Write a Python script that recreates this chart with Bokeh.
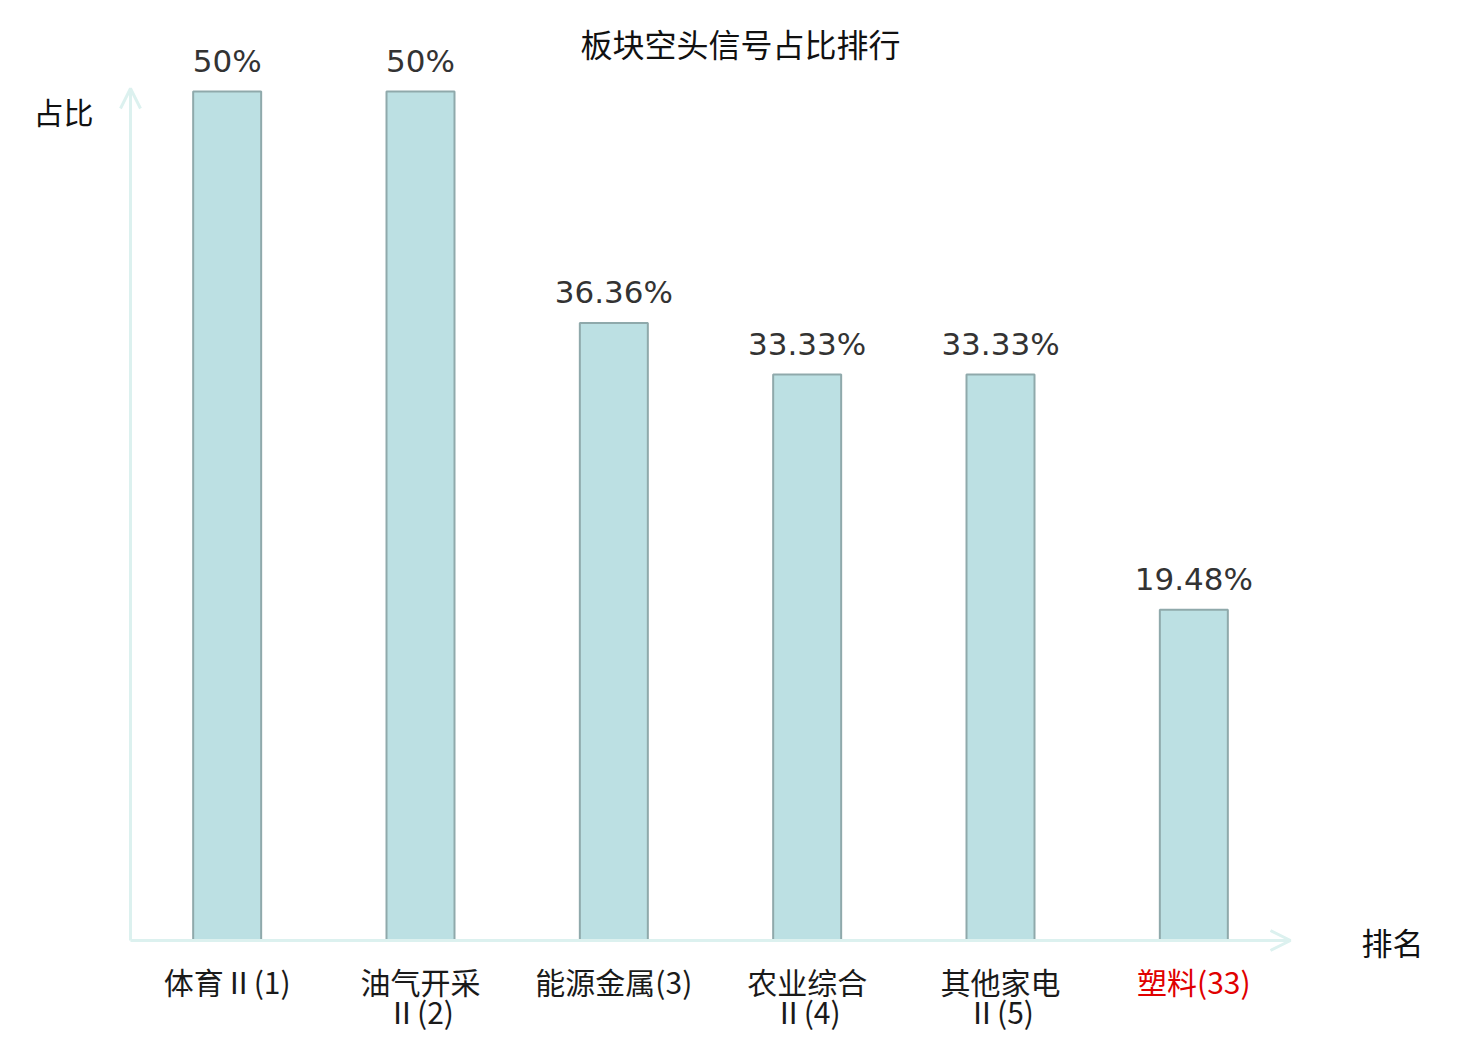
from bokeh.plotting import figure
from bokeh.models import ColumnDataSource, Arrow, OpenHead, Label, Range1d
from bokeh.core.properties import value
from bokeh.embed import file_html
from bokeh.resources import INLINE

title = "板块空头信号占比排行"
categories = ["体育Ⅱ(1)", "油气开采\nⅡ(2)", "能源金属(3)", "农业综合\nⅡ(4)", "其他家电\nⅡ(5)", "塑料(33)"]
values = [50, 50, 36.36, 33.33, 33.33, 19.48]
value_labels = ["50%", "50%", "36.36%", "33.33%", "33.33%", "19.48%"]
label_colors = ["#1a1a1a", "#1a1a1a", "#1a1a1a", "#1a1a1a", "#1a1a1a", "#e00000"]
y_name = "占比"
x_name = "排名"

W, H = 1464, 1032
px_x = 1160 / 6.0
px_y = 849 / 50.0
x0 = -130 / px_x
x1 = x0 + W / px_x
y1 = 940 / px_y
y0 = y1 - H / px_y

p = figure(width=W, height=H, output_backend="svg", toolbar_location=None,
           x_axis_location=None, y_axis_location=None,
           x_range=Range1d(x0, x1), y_range=Range1d(y0, y1),
           min_border=0, min_border_left=0, min_border_right=0,
           min_border_top=0, min_border_bottom=0)
p.outline_line_color = None
p.grid.visible = False
p.background_fill_color = "white"

xs = [i + 0.5 for i in range(len(categories))]
line1 = [c.split("\n")[0] for c in categories]
line2 = [c.split("\n")[1] if "\n" in c else "" for c in categories]
src = ColumnDataSource(dict(x=xs, top=values, lab=value_labels, l1=line1, l2=line2,
                            col=label_colors, zero=[0] * len(xs)))

axis_col = "#dcf1ef"
p.add_layout(Arrow(x_start=0, y_start=0, x_end=6.0, y_end=0, line_color=axis_col, line_width=3,
                   end=OpenHead(size=20, line_color=axis_col, line_width=3)))
p.add_layout(Arrow(x_start=0, y_start=0, x_end=0, y_end=(940 - 88) / px_y, line_color=axis_col, line_width=3,
                   end=OpenHead(size=20, line_color=axis_col, line_width=3)))

p.vbar(x="x", top="top", bottom=0, width=68 / px_x, source=src,
       fill_color="#bce0e3", line_color="#8fa9ab", line_width=2)

p.text(x="x", y="top", text="lab", source=src, text_align="center", text_baseline="middle",
       y_offset=-31, text_font=value("DejaVu Sans"), text_font_size="31px", text_color="#333333")

p.text(x="x", y="zero", text="l1", source=src, text_align="center", text_baseline="middle",
       y_offset=40, text_font=value("Noto Sans CJK SC"), text_font_size="30px", text_color="col")
p.text(x="x", y="zero", text="l2", source=src, text_align="center", text_baseline="middle",
       y_offset=70, text_font=value("Noto Sans CJK SC"), text_font_size="30px", text_color="col")

p.add_layout(Label(x=740, y=H - 42, x_units="screen", y_units="screen", text=title,
                   text_align="center", text_baseline="middle", text_font="Noto Sans CJK SC",
                   text_font_size="32px", text_color="#111111"))
p.add_layout(Label(x=63, y=H - 110, x_units="screen", y_units="screen", text=y_name,
                   text_align="center", text_baseline="middle", text_font="Noto Sans CJK SC",
                   text_font_size="30px", text_color="#111111"))
p.add_layout(Label(x=1392, y=H - 941, x_units="screen", y_units="screen", text=x_name,
                   text_align="center", text_baseline="middle", text_font="Noto Sans CJK SC",
                   text_font_size="31px", text_color="#111111"))

open("out.html", "w").write(file_html(p, INLINE))
